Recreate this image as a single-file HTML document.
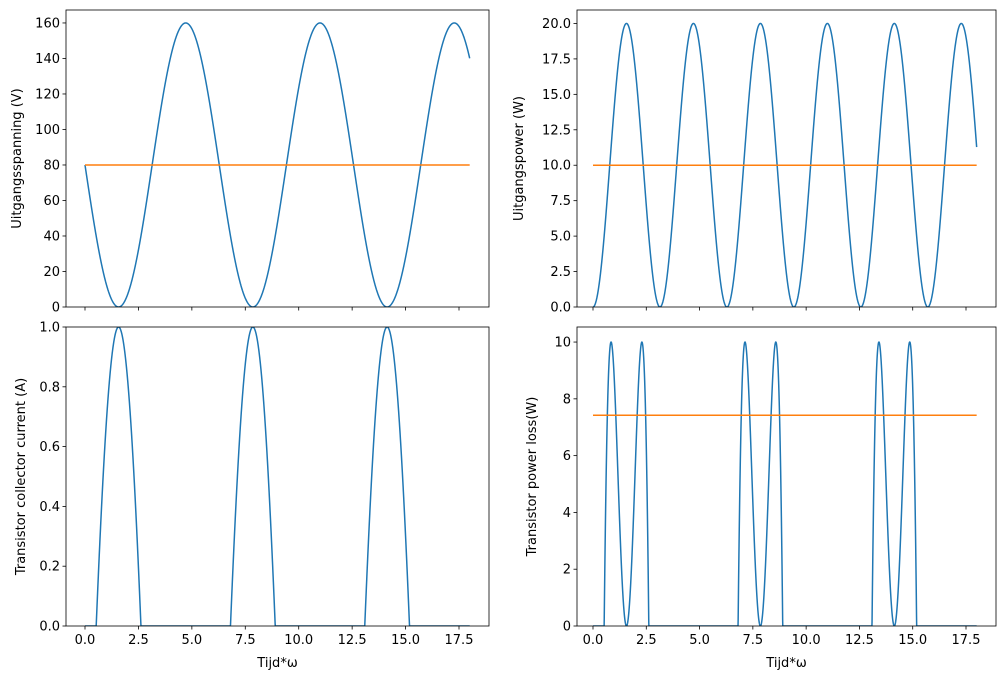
<!DOCTYPE html>
<html><head><meta charset="utf-8"><style>
body{margin:0;background:#fff}
svg{display:block}
text{font-family:"DejaVu Sans","Liberation Sans",sans-serif;font-size:13px;fill:#000}
</style></head><body>
<svg id="s" width="1005" height="683" xmlns="http://www.w3.org/2000/svg"></svg>
<script>
const S=document.getElementById('s'),NS='http://www.w3.org/2000/svg';
function el(t,a,txt,p){const e=document.createElementNS(NS,t);for(const k in a)e.setAttribute(k,a[k]);if(txt!=null)e.textContent=txt;(p||S).appendChild(e);return e;}
function axes(o){
 const {x0,x1,y0,y1,xa,xb,ymin,ymax,yt,fmt,xlab,ylab,ylx,fns,lines}=o;
 const X=v=>xa+v/17.5*(xb-xa);
 const Y=v=>y1-(v-ymin)/(ymax-ymin)*(y1-y0);
 const cid='c'+x0+'_'+y0;
 const cp=el('clipPath',{id:cid});el('rect',{x:x0,y:y0,width:x1-x0,height:y1-y0},null,cp);
 fns.forEach(f=>{let d='';for(let i=0;i<=3000;i++){const t=18*i/3000;d+=(i?'L':'M')+X(t).toFixed(2)+','+Y(f(t)).toFixed(2);}
  el('path',{d,fill:'none',stroke:'#1f77b4','stroke-width':1.5,'clip-path':'url(#'+cid+')'});});
 lines.forEach(v=>el('line',{x1:X(0),x2:X(18),y1:Y(v),y2:Y(v),stroke:'#ff7f0e','stroke-width':1.5}));
 el('rect',{x:x0,y:y0,width:x1-x0,height:y1-y0,fill:'none',stroke:'#000','stroke-width':0.8});
 for(let v=0;v<=17.5;v+=2.5){el('line',{x1:X(v),x2:X(v),y1:y1,y2:y1+3.5,stroke:'#000','stroke-width':0.8});
  if(xlab)el('text',{x:X(v),y:y1+18,'text-anchor':'middle'},v.toFixed(1));}
 yt.forEach(v=>{el('line',{x1:x0-3.5,x2:x0,y1:Y(v),y2:Y(v),stroke:'#000','stroke-width':0.8});
  el('text',{x:x0-6,y:Y(v)+4.5,'text-anchor':'end'},fmt(v));});
 if(xlab)el('text',{x:(x0+x1)/2,y:667,'text-anchor':'middle'},'Tijd*ω');
 el('text',{x:ylx,y:(y0+y1)/2,'text-anchor':'middle',transform:`rotate(-90 ${ylx} ${(y0+y1)/2})`},ylab);
}
const I=t=>Math.max(0,2*Math.sin(t)-1);
const L=t=>{const s=Math.sin(t);return s>0.5?80*(1-s)*(2*s-1):0;};
const r=a=>{const o=[];for(let v=a[0];v<=a[1]+1e-9;v+=a[2])o.push(+v.toFixed(3));return o;};
axes({x0:66,x1:489,y0:10,y1:307,xa:85,xb:459,ymin:0,ymax:167.3,yt:r([0,160,20]),fmt:v=>String(v),xlab:false,ylab:'Uitgangsspanning (V)',ylx:21,fns:[t=>80*(1-Math.sin(t))],lines:[80]});
axes({x0:577,x1:996,y0:10,y1:307,xa:593,xb:966,ymin:0,ymax:20.95,yt:r([0,20,2.5]),fmt:v=>v.toFixed(1),xlab:false,ylab:'Uitgangspower (W)',ylx:523,fns:[t=>20*Math.sin(t)**2],lines:[10]});
axes({x0:66,x1:489,y0:327,y1:626,xa:85,xb:459,ymin:0,ymax:1,yt:r([0,1,0.2]),fmt:v=>v.toFixed(1),xlab:true,ylab:'Transistor collector current (A)',ylx:25,fns:[I],lines:[]});
axes({x0:577,x1:996,y0:327,y1:626,xa:593,xb:966,ymin:0,ymax:10.53,yt:r([0,10,2]),fmt:v=>String(v),xlab:true,ylab:'Transistor power loss(W)',ylx:536,fns:[L],lines:[7.42]});
</script>
</body></html>
